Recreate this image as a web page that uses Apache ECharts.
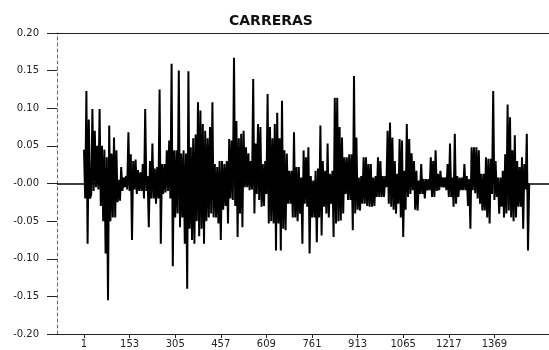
<!DOCTYPE html>
<html>
<head>
<meta charset="utf-8">
<script src="https://cdn.jsdelivr.net/npm/echarts@6/dist/echarts.min.js"></script>
<style>
html,body{margin:0;padding:0;background:#fff;}
#chart{width:549px;height:350px;}
</style>
</head>
<body>
<div id="chart"></div>
<script>
// Chart title
const chartTitle = 'CARRERAS';
// x tick labels (observation number)
const xTickLabels = [1, 153, 305, 457, 609, 761, 913, 1065, 1217, 1369];
// y tick values
const yTicks = [-0.20, -0.15, -0.10, -0.05, 0.00, 0.05, 0.10, 0.15, 0.20];
// sampling step between plotted observations (observation numbers 1, 5, 9, ...)
const obsStep = 4;
const returnsA = [
 0.045,-0.020,0.123,-0.080,0.085,-0.020,-0.015,0.099,-0.010,0.070,
 -0.005,0.050,-0.008,0.099,-0.030,0.050,-0.050,0.045,-0.093,0.035,
 -0.155,0.077,-0.050,0.040,-0.045,0.061,-0.045,0.044,-0.025,0.005,
 -0.023,0.022,-0.010,0.008,-0.005,0.010,-0.008,0.068,-0.010,0.039,
 -0.075,0.030,-0.008,0.032,-0.014,0.018,-0.010,0.015,-0.010,0.026,
 -0.020,0.099,-0.010,0.010,-0.058,0.030,-0.020,0.053,-0.020,0.020,
 -0.027,0.022,-0.020,0.125,-0.080,0.026,-0.014,0.026,-0.012,0.044,
 -0.010,0.057,-0.020,0.159,-0.110,0.044,-0.045,0.044,-0.040,0.150,
 -0.058,0.040,-0.045,0.044,-0.080,0.040,-0.140,0.149,-0.060,0.048,
 -0.075,0.060,-0.080,0.065,-0.050,0.108,-0.070,0.097,-0.060,0.079
];
const returnsB = [
 -0.080,0.070,-0.050,0.060,-0.045,0.075,-0.040,0.108,-0.045,0.026,
 -0.045,0.022,-0.053,0.030,-0.075,0.030,-0.035,0.026,-0.030,0.030,
 -0.053,0.059,-0.020,0.057,-0.022,0.167,-0.030,0.083,-0.071,0.060,
 -0.040,0.066,-0.058,0.070,-0.005,0.048,-0.005,0.040,-0.009,0.030,
 -0.008,0.139,-0.040,0.053,-0.014,0.079,-0.022,0.075,-0.031,0.026,
 -0.030,0.030,-0.014,0.119,-0.053,0.075,-0.050,0.060,-0.053,0.079,
 -0.089,0.094,-0.053,0.060,-0.089,0.110,-0.060,0.044,-0.062,0.040,
 -0.027,0.017,-0.027,0.017,-0.045,0.068,-0.045,0.022,-0.050,0.022,
 -0.040,0.008,-0.080,0.044,-0.027,0.035,-0.031,0.048,-0.093,0.010,
 -0.045,0.004,-0.045,0.017,-0.078,0.020,-0.045,0.077,-0.069,0.030
];
const returnsC = [
 -0.031,0.017,-0.040,0.053,-0.045,0.013,-0.027,0.017,-0.071,0.114,
 -0.053,0.114,-0.050,0.075,-0.049,0.061,-0.040,0.035,-0.014,0.035,
 -0.022,0.039,-0.022,0.039,-0.062,0.143,-0.040,0.061,-0.035,0.008,
 -0.036,0.010,-0.027,0.035,-0.027,0.035,-0.030,0.026,-0.031,0.026,
 -0.031,0.008,-0.030,0.010,-0.018,0.035,-0.018,0.030,-0.018,0.010,
 -0.018,0.010,-0.005,0.070,-0.027,0.081,-0.031,0.061,-0.035,0.030,
 -0.040,0.013,-0.027,0.059,-0.045,0.057,-0.071,0.017,-0.035,0.079,
 -0.018,0.059,-0.014,0.040,-0.009,0.030,-0.035,0.017,-0.036,0.004,
 -0.014,0.026,-0.014,0.006,-0.020,0.006,-0.009,0.006,-0.009,0.035,
 -0.018,0.030,-0.018,0.044,-0.010,0.013,-0.009,0.017,-0.005,0.008
];
const returnsD = [
 -0.005,0.008,-0.009,0.026,-0.018,0.053,-0.018,0.008,-0.031,0.066,
 -0.027,0.010,-0.018,0.008,-0.009,0.008,-0.009,0.026,-0.009,0.010,
 -0.030,0.006,-0.060,0.048,-0.009,0.048,-0.013,0.048,-0.020,0.044,
 -0.027,0.013,-0.036,0.013,-0.036,0.035,-0.045,0.033,-0.053,0.033,
 -0.014,0.123,-0.022,0.030,-0.018,0.008,-0.040,0.008,-0.031,0.017,
 -0.045,0.039,-0.040,0.105,-0.036,0.088,-0.045,0.044,-0.050,0.064,
 -0.045,0.030,-0.031,0.022,-0.031,0.035,-0.060,0.026,-0.008,0.066,
 -0.089,0.000
];

const allReturns = returnsA.concat(returnsB, returnsC, returnsD);
const seriesData = allReturns.map((v, k) => [1 + obsStep * k, v]);

const chart = echarts.init(document.getElementById('chart'), null, {renderer: 'canvas'});
const fontFam = 'DejaVu Sans, Arial, sans-serif';
chart.setOption({
  animation: false,
  backgroundColor: '#ffffff',
  title: {
    text: chartTitle,
    left: 224,
    top: 9,
    textStyle: {fontFamily: fontFam, fontSize: 14, fontWeight: 'bold', color: '#111'}
  },
  grid: {left: 57, right: 0, top: 33, bottom: 16, containLabel: false},
  xAxis: [{
    type: 'value',
    min: -89,
    max: 1551,
    position: 'bottom',
    axisLine: {show: true, onZero: false, lineStyle: {color: '#222', width: 1}},
    axisTick: {show: true, inside: false, length: 4, customValues: xTickLabels, lineStyle: {color: '#222'}},
    axisLabel: {customValues: xTickLabels, margin: 5, fontFamily: fontFam, fontSize: 10, color: '#222',
      formatter: v => String(v)},
    splitLine: {show: false}
  }, {
    type: 'value',
    min: -89,
    max: 1551,
    position: 'top',
    axisLine: {show: true, onZero: false, lineStyle: {color: '#222', width: 1}},
    axisTick: {show: false},
    axisLabel: {show: false},
    splitLine: {show: false}
  }],
  yAxis: {
    type: 'value',
    min: -0.2,
    max: 0.2,
    interval: 0.05,
    axisLine: {show: true, onZero: false, lineStyle: {color: '#666', width: 1, type: [3, 3]}},
    axisTick: {show: true, length: 10, lineStyle: {color: '#222', width: 1}},
    axisLabel: {
      margin: 18, fontFamily: fontFam, fontSize: 10, color: '#222',
      formatter: v => (Math.abs(v) < 1e-9 ? '-0.00' : v.toFixed(2))
    },
    splitLine: {show: false}
  },
  series: [{
    type: 'line',
    xAxisIndex: 0,
    data: seriesData,
    symbol: 'none',
    lineStyle: {color: '#000', width: 2},
    markLine: {
      silent: true,
      symbol: 'none',
      label: {show: false},
      lineStyle: {color: '#000', width: 1.5, type: 'solid'},
      data: [{yAxis: 0}]
    }
  }]
});
</script>
</body>
</html>
